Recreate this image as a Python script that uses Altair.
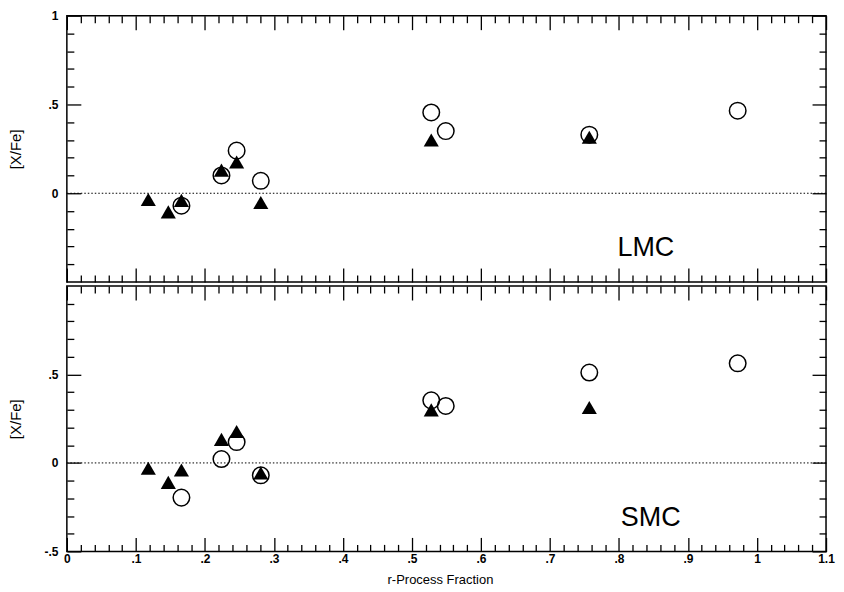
import json
import altair as alt
import pandas as pd

# ---- data ----
x_tri = [0.118, 0.147, 0.166, 0.224, 0.246, 0.281, 0.528, 0.757]
x_circ = [0.166, 0.224, 0.246, 0.281, 0.528, 0.549, 0.757, 0.972]

lmc_tri = [-0.035, -0.105, -0.04, 0.13, 0.176, -0.052, 0.30, 0.315]
lmc_circ = [-0.07, 0.10, 0.24, 0.07, 0.455, 0.35, 0.33, 0.465]

smc_tri = [-0.03, -0.11, -0.04, 0.133, 0.178, -0.057, 0.30, 0.313]
smc_circ = [-0.196, 0.022, 0.118, -0.07, 0.354, 0.322, 0.511, 0.563]

panel_names = ["LMC", "SMC"]
label_x = [0.839, 0.846]
label_y = [-0.352, -0.356]

# ---- ticks and tick labels ----
x_major = [0.0, 0.1, 0.2, 0.3, 0.4, 0.5, 0.6, 0.7, 0.8, 0.9, 1.0, 1.1]
x_major_labels = ["0", ".1", ".2", ".3", ".4", ".5", ".6", ".7", ".8", ".9", "1", "1.1"]
x_minor = [0.02, 0.04, 0.06, 0.08, 0.12, 0.14, 0.16, 0.18, 0.22, 0.24, 0.26, 0.28,
           0.32, 0.34, 0.36, 0.38, 0.42, 0.44, 0.46, 0.48, 0.52, 0.54, 0.56, 0.58,
           0.62, 0.64, 0.66, 0.68, 0.72, 0.74, 0.76, 0.78, 0.82, 0.84, 0.86, 0.88,
           0.92, 0.94, 0.96, 0.98, 1.02, 1.04, 1.06, 1.08]
y_minor = [-0.4, -0.3, -0.2, -0.1, 0.1, 0.2, 0.3, 0.4, 0.6, 0.7, 0.8, 0.9]
y_major_top = [0.0, 0.5, 1.0]
y_labels_top = ["0", ".5", "1"]
y_major_bottom = [-0.5, 0.0, 0.5]
y_labels_bottom = ["-.5", "0", ".5"]

FONT = "Liberation Sans"
W = 761
MAJ = 14
MIN = 7


def base_ax():
    return dict(domain=False, grid=False, tickColor="black", tickWidth=1.3,
                labelFont=FONT, labelFontSize=12, labelFontWeight="bold",
                labelColor="black",
                titleFont=FONT, titleFontSize=13, titleFontWeight="normal",
                titleColor="black", labelFlush=False)


def panel(idx, tri_vals, circ_vals, y_major, y_labels, show_x, height):
    xs = alt.Scale(domain=[0, 1.1], nice=False, zero=False)
    ys = alt.Scale(domain=[-0.5, 1.0], nice=False, zero=False)
    x_lab_expr = json.dumps(x_major_labels) + "[round(datum.value * 10)]"
    y_lab_expr = json.dumps(y_labels) + "[round((datum.value - (%s)) * 2)]" % y_major[0]

    if show_x:
        ax_xb = alt.Axis(orient="bottom", values=x_major, tickSize=MAJ, offset=-MAJ,
                         labels=True, labelExpr=x_lab_expr, labelPadding=2,
                         title="r-Process Fraction", titlePadding=9, titleX=374,
                         **base_ax())
    else:
        ax_xb = alt.Axis(orient="bottom", values=x_major, tickSize=MAJ, offset=-MAJ,
                         labels=False, title=None, **base_ax())
    ax_xb_min = alt.Axis(orient="bottom", values=x_minor, tickSize=MIN, offset=-MIN,
                         labels=False, title=None, **base_ax())
    ax_xt = alt.Axis(orient="top", values=x_major, tickSize=MAJ, offset=-MAJ,
                     labels=False, title=None, **base_ax())
    ax_xt_min = alt.Axis(orient="top", values=x_minor, tickSize=MIN, offset=-MIN,
                         labels=False, title=None, **base_ax())
    yl_kw = base_ax()
    yl_kw["titleFontSize"] = 15
    ax_yl = alt.Axis(orient="left", values=y_major, tickSize=MAJ, offset=-MAJ,
                     labelExpr=y_lab_expr, labelPadding=9, title="[X/Fe]",
                     titleX=-57, **yl_kw)
    ax_yl_min = alt.Axis(orient="left", values=y_minor, tickSize=MIN, offset=-MIN,
                         labels=False, title=None, **base_ax())
    ax_yr = alt.Axis(orient="right", values=y_major, tickSize=MAJ, offset=-MAJ,
                     labels=False, title=None, **base_ax())
    ax_yr_min = alt.Axis(orient="right", values=y_minor, tickSize=MIN, offset=-MIN,
                         labels=False, title=None, **base_ax())

    tri_df = pd.DataFrame({"x": x_tri, "y": tri_vals})
    circ_df = pd.DataFrame({"x": x_circ, "y": circ_vals})
    zero_df = pd.DataFrame({"y": [0.0]})
    text_df = pd.DataFrame({"x": [label_x[idx]], "y": [label_y[idx]], "t": [panel_names[idx]]})

    zero = alt.Chart(zero_df).mark_rule(color="black", strokeWidth=1, strokeDash=[1.5, 2]).encode(
        y=alt.Y("y:Q", scale=ys, axis=None))
    circles = alt.Chart(circ_df).mark_point(shape="circle", filled=False, color="black",
                                            strokeWidth=1.5, size=275, opacity=1).encode(
        x=alt.X("x:Q", scale=xs, axis=ax_xb), y=alt.Y("y:Q", scale=ys, axis=ax_yl))
    tris = alt.Chart(tri_df).mark_point(shape="triangle-up", filled=True, color="black",
                                        size=230, opacity=1).encode(
        x=alt.X("x:Q", scale=xs, axis=ax_xb_min), y=alt.Y("y:Q", scale=ys, axis=ax_yl_min))
    text = alt.Chart(text_df).mark_text(font=FONT, fontSize=27, align="center",
                                        baseline="alphabetic", color="black").encode(
        x=alt.X("x:Q", scale=xs, axis=ax_xt), y=alt.Y("y:Q", scale=ys, axis=ax_yr),
        text="t:N")
    dummy = alt.Chart(circ_df).mark_point(opacity=0).encode(
        x=alt.X("x:Q", scale=xs, axis=ax_xt_min), y=alt.Y("y:Q", scale=ys, axis=ax_yr_min))

    return alt.layer(zero, circles, tris, text, dummy).resolve_axis(
        x="independent", y="independent").properties(width=W, height=height)


top = panel(0, lmc_tri, lmc_circ, y_major_top, y_labels_top, False, 267)
bottom = panel(1, smc_tri, smc_circ, y_major_bottom, y_labels_bottom, True, 266)

chart = alt.vconcat(top, bottom, spacing=0).properties(
    padding={"left": 0, "top": 0, "right": 0, "bottom": 0}
).configure_view(stroke="black", strokeWidth=1.5)

chart.save("out.html", embed_options={"renderer": "svg", "actions": False})
